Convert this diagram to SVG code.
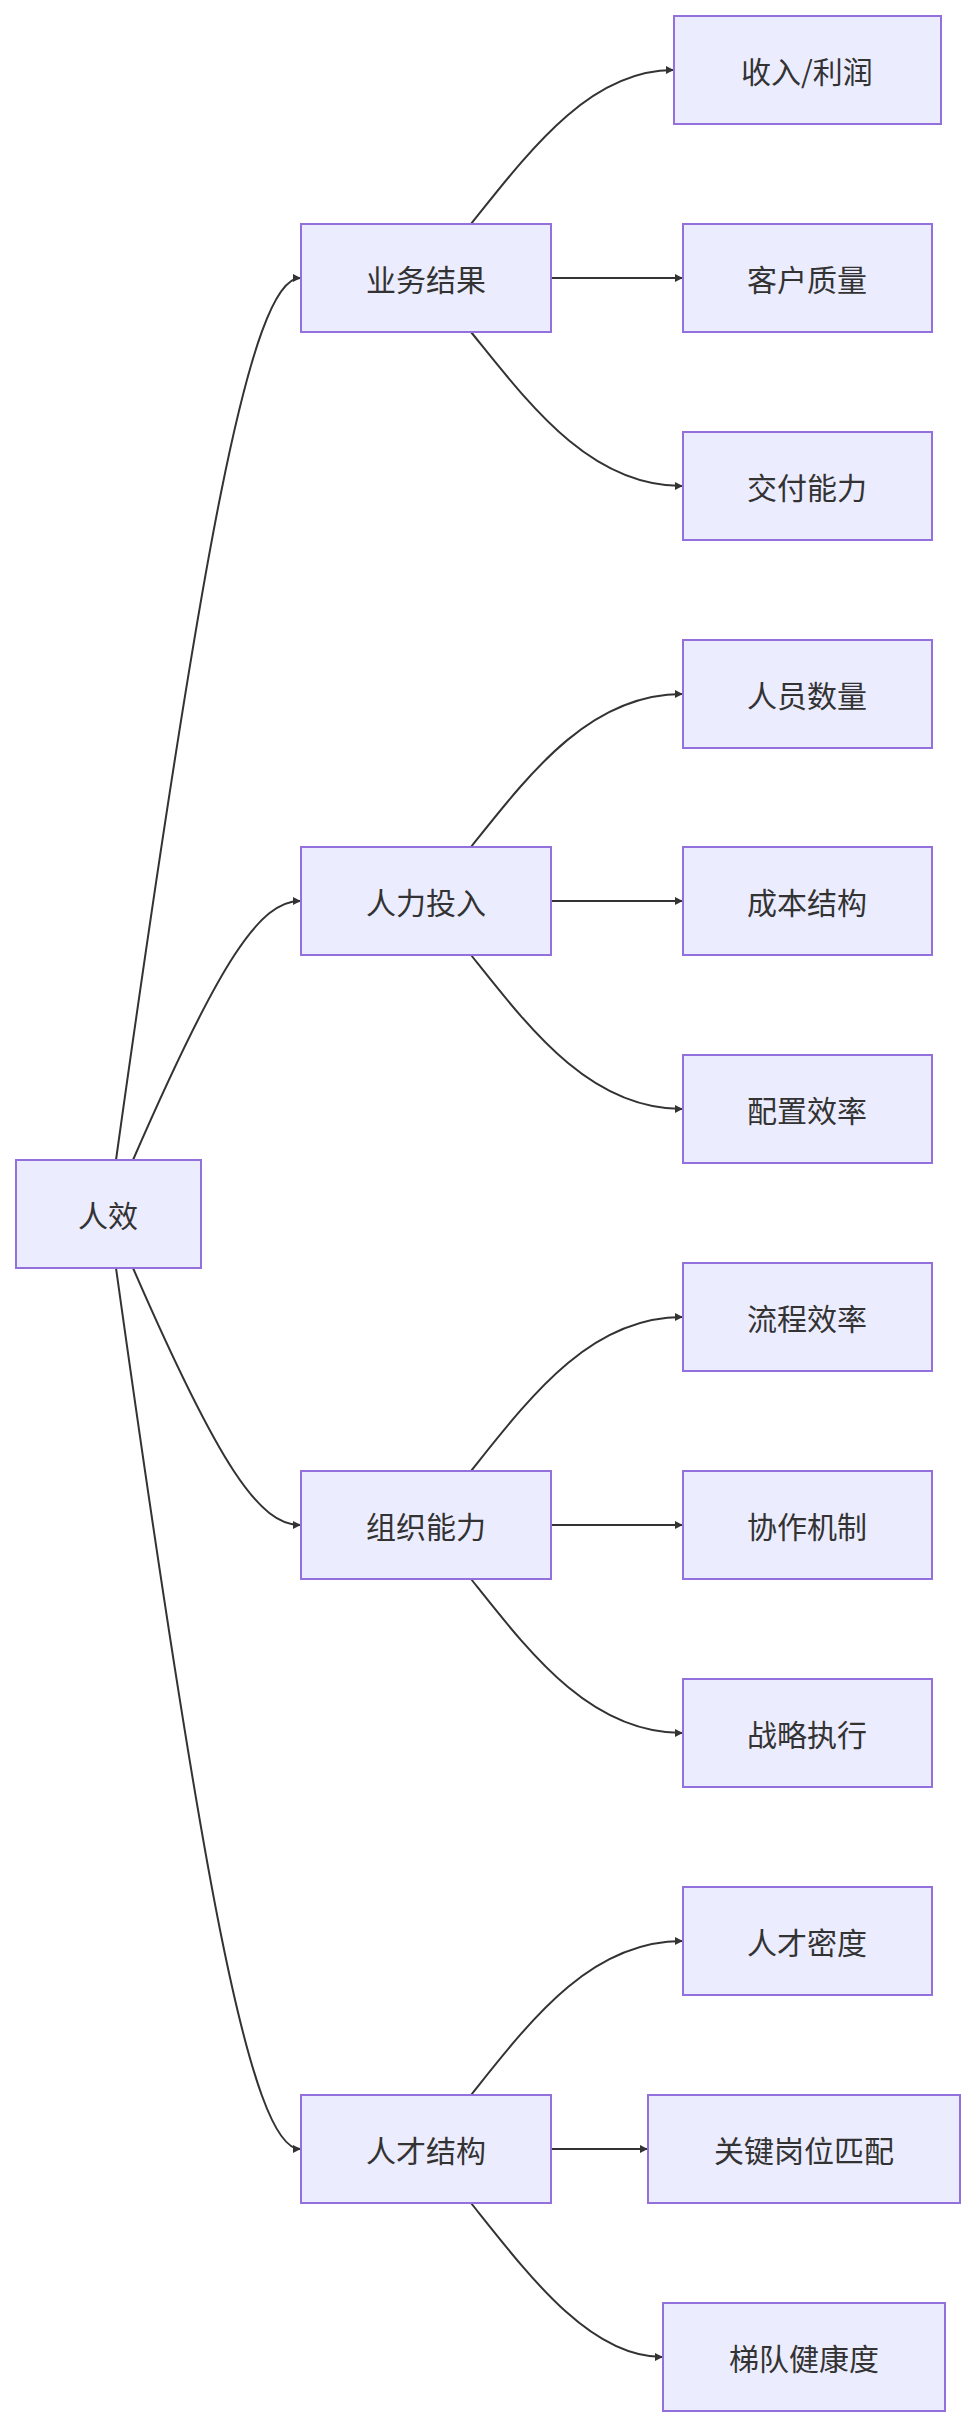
<svg xmlns="http://www.w3.org/2000/svg" width="976" height="2428" viewBox="0 0 976 2428">
<style>
.n rect{fill:#ECECFF;stroke:#9370DB;stroke-width:2}
.n text{font-family:"Noto Sans CJK SC","Liberation Sans",sans-serif;font-size:30px;fill:#333;text-anchor:middle;dominant-baseline:central}
.e path{fill:none;stroke:#333;stroke-width:2;marker-end:url(#a)}
</style>
<defs><marker id="a" viewBox="0 0 10 10" refX="9" refY="5" markerWidth="8" markerHeight="8" markerUnits="userSpaceOnUse" orient="auto"><path d="M0,0L10,5L0,10z" fill="#333"/></marker></defs>
<rect width="976" height="2428" fill="#fff"/>
<g class="e">
<path d="M116,1160 C200,560 250,278 300,278"/>
<path d="M133,1160 C220,960 260,901 300,901"/>
<path d="M133,1268 C220,1468 260,1525 300,1525"/>
<path d="M116,1268 C200,1868 250,2149 300,2149"/>
<path d="M471,224 C530,150 590,70 673,70"/>
<path d="M551,278 L682,278"/>
<path d="M471,332 C530,405 590,486 682,486"/>
<path d="M471,847 C530,773 590,694 682,694"/>
<path d="M551,901 L682,901"/>
<path d="M471,955 C530,1029 590,1109 682,1109"/>
<path d="M471,1471 C530,1397 590,1317 682,1317"/>
<path d="M551,1525 L682,1525"/>
<path d="M471,1579 C530,1653 590,1733 682,1733"/>
<path d="M471,2095 C530,2021 590,1941 682,1941"/>
<path d="M551,2149 L647,2149"/>
<path d="M471,2203 C530,2277 590,2357 662,2357"/>
</g>
<g id="renxiao" class="n"><rect x="16" y="1160" width="185" height="108"/><text x="108" y="1214">人效</text></g>
<g id="yewu" class="n"><rect x="301" y="224" width="250" height="108"/><text x="426" y="278">业务结果</text></g>
<g id="renli" class="n"><rect x="301" y="847" width="250" height="108"/><text x="426" y="901">人力投入</text></g>
<g id="zuzhi" class="n"><rect x="301" y="1471" width="250" height="108"/><text x="426" y="1525">组织能力</text></g>
<g id="rencai" class="n"><rect x="301" y="2095" width="250" height="108"/><text x="426" y="2149">人才结构</text></g>
<g id="shouru" class="n"><rect x="674" y="16" width="267" height="108"/><text x="807" y="70">收入/利润</text></g>
<g id="kehu" class="n"><rect x="683" y="224" width="249" height="108"/><text x="807" y="278">客户质量</text></g>
<g id="jiaofu" class="n"><rect x="683" y="432" width="249" height="108"/><text x="807" y="486">交付能力</text></g>
<g id="renyuan" class="n"><rect x="683" y="640" width="249" height="108"/><text x="807" y="694">人员数量</text></g>
<g id="chengben" class="n"><rect x="683" y="847" width="249" height="108"/><text x="807" y="901">成本结构</text></g>
<g id="peizhi" class="n"><rect x="683" y="1055" width="249" height="108"/><text x="807" y="1109">配置效率</text></g>
<g id="liucheng" class="n"><rect x="683" y="1263" width="249" height="108"/><text x="807" y="1317">流程效率</text></g>
<g id="xiezuo" class="n"><rect x="683" y="1471" width="249" height="108"/><text x="807" y="1525">协作机制</text></g>
<g id="zhanlue" class="n"><rect x="683" y="1679" width="249" height="108"/><text x="807" y="1733">战略执行</text></g>
<g id="midu" class="n"><rect x="683" y="1887" width="249" height="108"/><text x="807" y="1941">人才密度</text></g>
<g id="guanjian" class="n"><rect x="648" y="2095" width="312" height="108"/><text x="804" y="2149">关键岗位匹配</text></g>
<g id="tidui" class="n"><rect x="663" y="2303" width="282" height="108"/><text x="804" y="2357">梯队健康度</text></g>
</svg>
